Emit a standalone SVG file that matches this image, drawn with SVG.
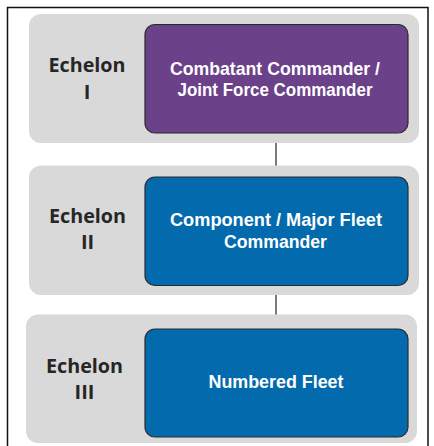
<svg xmlns="http://www.w3.org/2000/svg" width="434" height="446" viewBox="0 0 434 446">
  <style>
    .panel { fill: #d9d9d9; }
    .box { stroke: #2a2a2a; stroke-width: 1.2; }
    .purple { fill: #6b418a; }
    .blue { fill: #036aad; }
    .lbl { font-family: "Open Sans", "Noto Sans", sans-serif; font-weight: bold; font-size: 20px; fill: #262626; text-anchor: middle; }
    .btxt { font-family: "Liberation Sans", Arial, sans-serif; font-weight: bold; font-size: 18.5px; fill: #ffffff; text-anchor: middle; }
    .conn { stroke: #222222; stroke-width: 1.2; fill: none; }
  </style>
  <rect x="0" y="0" width="434" height="446" fill="#ffffff"/>
  <rect x="7.5" y="7.5" width="420.5" height="450" fill="none" stroke="#111111" stroke-width="1.5"/>

  <g id="connectors">
    <line class="conn" x1="276" y1="133" x2="276" y2="177"/>
    <line class="conn" x1="276" y1="285" x2="276" y2="329"/>
  </g>

  <g id="echelon1">
    <rect class="panel" x="29" y="14" width="390" height="129" rx="12"/>
    <text class="lbl" x="87" y="72" textLength="77" lengthAdjust="spacingAndGlyphs">Echelon</text>
    <text class="lbl" x="87" y="98.5">I</text>
  </g>
  <g id="node1">
    <rect class="box purple" x="145" y="24.5" width="263" height="108.5" rx="10"/>
    <text class="btxt" x="275" y="74.5" textLength="210" lengthAdjust="spacingAndGlyphs">Combatant Commander /</text>
    <text class="btxt" x="275" y="95.5" textLength="195" lengthAdjust="spacingAndGlyphs">Joint Force Commander</text>
  </g>

  <g id="echelon2">
    <rect class="panel" x="29" y="165.5" width="390" height="129.5" rx="12"/>
    <text class="lbl" x="87.5" y="223" textLength="77" lengthAdjust="spacingAndGlyphs">Echelon</text>
    <text class="lbl" x="87.5" y="249">II</text>
  </g>
  <g id="node2">
    <rect class="box blue" x="145" y="177" width="263" height="108.5" rx="10"/>
    <text class="btxt" x="276" y="226" textLength="212" lengthAdjust="spacingAndGlyphs">Component / Major Fleet</text>
    <text class="btxt" x="275.5" y="247.5" textLength="103" lengthAdjust="spacingAndGlyphs">Commander</text>
  </g>

  <g id="echelon3">
    <rect class="panel" x="26" y="314.5" width="391" height="128.5" rx="12"/>
    <text class="lbl" x="84.5" y="373" textLength="77" lengthAdjust="spacingAndGlyphs">Echelon</text>
    <text class="lbl" x="84.5" y="399">III</text>
  </g>
  <g id="node3">
    <rect class="box blue" x="145" y="329" width="263" height="108" rx="10"/>
    <text class="btxt" x="276" y="388" textLength="135" lengthAdjust="spacingAndGlyphs">Numbered Fleet</text>
  </g>
</svg>
